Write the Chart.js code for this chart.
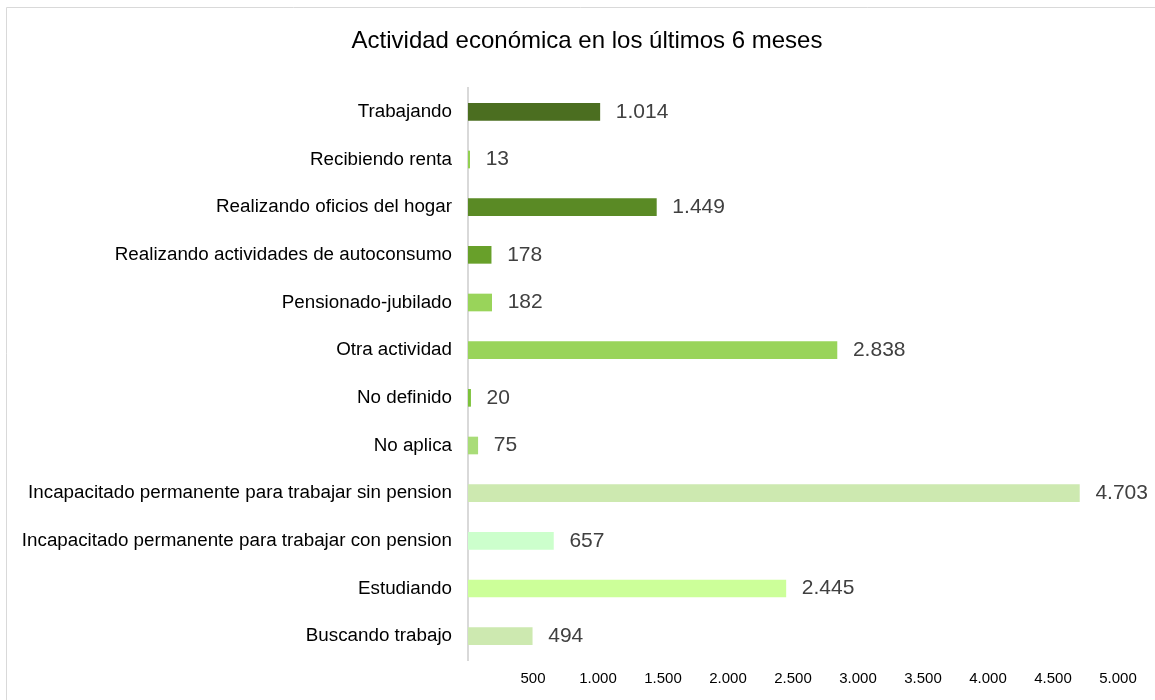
<!DOCTYPE html>
<html>
<head>
<meta charset="utf-8">
<script src="https://cdn.jsdelivr.net/npm/chart.js@4.4.1/dist/chart.umd.min.js"></script>
<style>
  html, body { margin: 0; padding: 0; background: #fff; overflow: hidden; }
  #wrap { position: relative; width: 1155px; height: 700px; }
</style>
</head>
<body>
<div id="wrap"><canvas id="c"></canvas></div>
<script>
const chartTitle = 'Actividad económica en los últimos 6 meses';
const categories = [
  'Trabajando',
  'Recibiendo renta',
  'Realizando oficios del hogar',
  'Realizando actividades de autoconsumo',
  'Pensionado-jubilado',
  'Otra actividad',
  'No definido',
  'No aplica',
  'Incapacitado permanente para trabajar sin pension',
  'Incapacitado permanente para trabajar con pension',
  'Estudiando',
  'Buscando trabajo'
];
const values = [1014, 13, 1449, 178, 182, 2838, 20, 75, 4703, 657, 2445, 494];
const barColors = [
  '#4b6e20', '#92d050', '#5a8a25', '#68a02a', '#99d45a', '#99d45a',
  '#7cc23a', '#a9dc78', '#cde9b0', '#ccffcc', '#ccff99', '#cde9b0'
];
const xMin = 0, xMax = 5000, xStep = 500;

const FONT = "'Liberation Sans', Arial, Helvetica, sans-serif";
function fmt(v) { return String(v).replace(/\B(?=(\d{3})+(?!\d))/g, '.'); }

const frameAndTitle = {
  id: 'frameAndTitle',
  afterDraw(chart) {
    const ctx = chart.ctx;
    ctx.save();
    ctx.strokeStyle = '#d9d9d9';
    ctx.lineWidth = 1;
    ctx.beginPath();
    ctx.moveTo(6.5, 700);
    ctx.lineTo(6.5, 7.5);
    ctx.lineTo(1155, 7.5);
    ctx.stroke();
    ctx.font = '24px ' + FONT;
    ctx.fillStyle = '#000';
    ctx.textAlign = 'center';
    ctx.textBaseline = 'middle';
    ctx.fillText(chartTitle, 587, 41);
    ctx.restore();
  }
};

const valueLabels = {
  id: 'valueLabels',
  afterDatasetsDraw(chart) {
    const ctx = chart.ctx;
    ctx.save();
    ctx.font = '21px ' + FONT;
    ctx.fillStyle = '#404040';
    ctx.textAlign = 'left';
    ctx.textBaseline = 'middle';
    chart.getDatasetMeta(0).data.forEach((el, i) => {
      ctx.fillText(fmt(values[i]), el.x + 16, el.y);
    });
    ctx.restore();
  }
};

new Chart(document.getElementById('c'), {
  type: 'bar',
  data: {
    labels: categories,
    datasets: [{
      data: values,
      backgroundColor: barColors,
      borderWidth: 0,
      barThickness: 17
    }]
  },
  options: {
    indexAxis: 'y',
    responsive: true,
    maintainAspectRatio: false,
    animation: false,
    layout: { padding: { left: 0, right: 37, top: 88, bottom: 0 } },
    plugins: {
      legend: { display: false },
      tooltip: { enabled: false },
      title: { display: false }
    },
    scales: {
      x: {
        min: xMin, max: xMax,
        grid: { display: false },
        border: { display: false },
        ticks: {
          stepSize: xStep,
          padding: 2,
          color: '#000',
          font: { family: FONT, size: 15 },
          maxRotation: 0,
          autoSkip: false,
          callback: (v) => v === 0 ? '' : fmt(v)
        },
        afterFit(scale) { scale.height = 40; }
      },
      y: {
        grid: { display: false },
        border: { display: true, color: '#d9d9d9', width: 2 },
        ticks: {
          padding: 8,
          color: '#000',
          font: { family: FONT, size: 18.8 },
          autoSkip: false
        },
        afterFit(scale) { scale.width = 468; }
      }
    }
  },
  plugins: [frameAndTitle, valueLabels]
});
</script>
</body>
</html>
